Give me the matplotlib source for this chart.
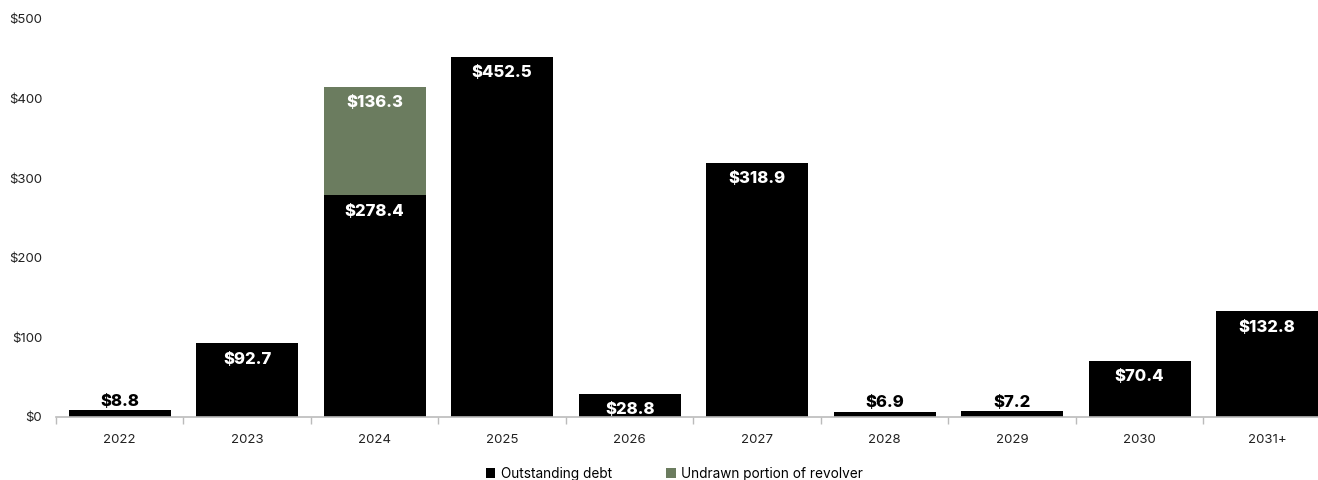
import numpy as np
import matplotlib.pyplot as plt

# data
years = ['2022', '2023', '2024', '2025', '2026', '2027', '2028', '2029', '2030', '2031+']
outstanding = [8.8, 92.7, 278.4, 452.5, 28.8, 318.9, 6.9, 7.2, 70.4, 132.8]
undrawn = [0, 0, 136.3, 0, 0, 0, 0, 0, 0, 0]
yticks = [0, 100, 200, 300, 400, 500]

plt.rcParams['font.family'] = ['Inter', 'DejaVu Sans']

fig = plt.figure(figsize=(13.18, 4.8), dpi=100)
ax = fig.add_axes([56 / 1318, 63 / 480, 1 - 56 / 1318, (417 - 19) / 480])

x = np.arange(len(years))
green = '#6B7C5F'
ax.bar(x, outstanding, width=0.8, color='black', label='Outstanding debt')
ax.bar(x, undrawn, width=0.8, bottom=outstanding, color=green, label='Undrawn portion of revolver')

# value labels
for i, v in enumerate(outstanding):
    if v < 20:
        ax.annotate(f'${v:.1f}', (i, v), xytext=(0, 1), textcoords='offset points',
                    ha='center', va='bottom', fontsize=12, fontweight='heavy', color='black')
    else:
        ax.annotate(f'${v:.1f}', (i, v), xytext=(0, -6), textcoords='offset points',
                    ha='center', va='top', fontsize=12, fontweight='heavy', color='white')
for i, v in enumerate(undrawn):
    if v > 0:
        top = outstanding[i] + v
        ax.annotate(f'${v:.1f}', (i, top), xytext=(0, -6), textcoords='offset points',
                    ha='center', va='top', fontsize=12, fontweight='heavy', color='white')

ax.set_yticks(yticks)
ax.set_yticklabels([f'${t}' for t in yticks], fontsize=9.5, color='#222222')
ax.tick_params(axis='y', length=0, pad=10)

ax.set_xticks(x)
ax.set_xticklabels(years, fontsize=9.5, color='#222222')
ax.set_xticks(np.arange(-0.5, 10, 1), minor=True)
ax.tick_params(axis='x', which='major', length=0, pad=12)
ax.tick_params(axis='x', which='minor', length=5, color='#bbbbbb', width=1)

ax.set_xlim(-0.5, 9.4)
ax.set_ylim(0, 500)

for s in ['top', 'right', 'left']:
    ax.spines[s].set_visible(False)
ax.spines['bottom'].set_color('#bbbbbb')
ax.spines['bottom'].set_linewidth(1.2)

ax.legend(loc='center', bbox_to_anchor=(0.49, -0.143), ncol=2, frameon=False,
          fontsize=9.8, handlelength=0.7, handleheight=0.7, columnspacing=4, handletextpad=0.4)

fig.savefig('out.png', dpi=100)
